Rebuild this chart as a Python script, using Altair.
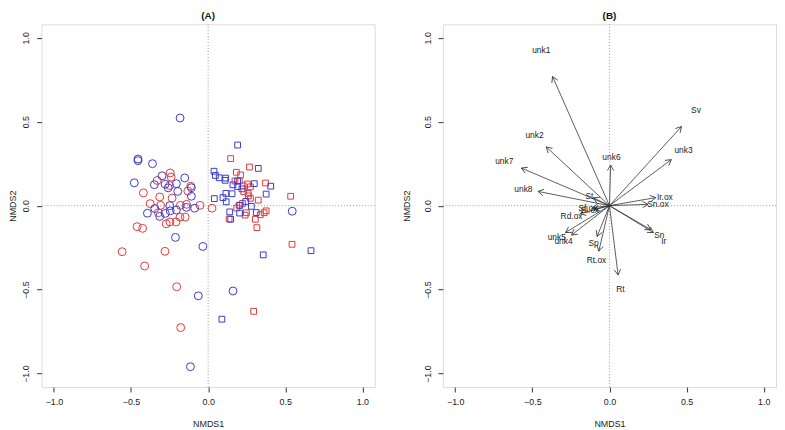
import math
import altair as alt
import pandas as pd

# ---------------- Panel A data (NMDS site scores) ----------------
red_circle_x = [-0.420, -0.331, -0.246, -0.240, -0.250, -0.314, -0.234, -0.113, -0.132, -0.376,
                -0.308, -0.180, -0.140, -0.053, 0.025, -0.323, -0.272, -0.248, -0.208, -0.183,
                -0.149, -0.461, -0.425, -0.558, -0.280, -0.412, -0.204, -0.178]
red_circle_y = [0.076, 0.150, 0.195, 0.170, 0.120, 0.052, 0.045, 0.116, 0.087, 0.012,
                0.002, 0.002, 0.008, 0.002, -0.015, -0.042, -0.108, -0.097, -0.097, -0.068,
                -0.068, -0.125, -0.135, -0.274, -0.272, -0.359, -0.483, -0.726]

blue_circle_x = [-0.182, -0.455, -0.455, -0.361, -0.479, -0.299, -0.349, -0.279, -0.259, -0.206,
                 -0.152, -0.197, -0.109, -0.109, -0.249, -0.346, -0.394, -0.314, -0.278, -0.246,
                 -0.206, -0.141, -0.088, -0.212, -0.034, 0.545, -0.064, 0.161, -0.115]
blue_circle_y = [0.522, 0.278, 0.268, 0.250, 0.136, 0.178, 0.125, 0.128, 0.106, 0.131,
                 0.165, 0.085, 0.107, 0.056, 0.000, -0.017, -0.045, -0.064, -0.046, -0.031,
                 -0.026, -0.010, -0.015, -0.189, -0.243, -0.033, -0.537, -0.508, -0.959]

red_square_x = [0.146, 0.268, 0.183, 0.210, 0.174, 0.202, 0.227, 0.255, 0.274, 0.372,
                0.231, 0.259, 0.261, 0.274, 0.325, 0.535, 0.223, 0.200, 0.185, 0.248,
                0.240, 0.338, 0.363, 0.376, 0.306, 0.136, 0.316, 0.544, 0.295]
red_square_y = [0.280, 0.230, 0.199, 0.183, 0.147, 0.147, 0.118, 0.129, 0.112, 0.135,
                0.083, 0.073, 0.058, 0.044, 0.033, 0.056, 0.014, 0.002, -0.014, -0.042,
                -0.056, -0.054, -0.042, -0.031, -0.081, -0.079, -0.131, -0.230, -0.629]

blue_square_x = [0.191, 0.325, 0.038, 0.047, 0.072, 0.113, 0.110, 0.191, 0.161, 0.191,
                 0.219, 0.299, 0.406, 0.376, 0.115, 0.155, 0.040, 0.096, 0.117, 0.244,
                 0.280, 0.206, 0.140, 0.204, 0.312, 0.146, 0.667, 0.357, 0.089]
blue_square_y = [0.361, 0.222, 0.205, 0.180, 0.166, 0.164, 0.151, 0.147, 0.124, 0.114,
                 0.100, 0.131, 0.116, 0.069, 0.073, 0.071, 0.042, 0.048, 0.023, 0.025,
                 -0.004, 0.002, -0.037, -0.044, -0.041, -0.081, -0.268, -0.293, -0.676]

# ---------------- Panel B data (fitted vectors) ----------------
vec_names = ["unk1", "unk2", "unk7", "unk8", "unk6", "Sv", "unk3", "Ir.ox", "Sn.ox", "Sn",
             "Ir", "Rt", "Rt.ox", "Sp", "unk4", "unk5", "Rd.ox", "St", "Sf.ox", "Sl.ox"]
tip_x = [-0.369, -0.410, -0.571, -0.463, 0.008, 0.467, 0.401, 0.300, 0.250, 0.268,
         0.285, 0.056, -0.069, -0.080, -0.246, -0.285, -0.190, -0.105, -0.110, -0.100]
tip_y = [0.769, 0.350, 0.224, 0.085, 0.242, 0.471, 0.274, 0.048, 0.008, -0.143,
         -0.160, -0.413, -0.271, -0.183, -0.175, -0.160, -0.048, 0.047, -0.012, -0.022]
lab_x = [-0.442, -0.486, -0.682, -0.558, 0.013, 0.561, 0.480, 0.359, 0.314, 0.323,
         0.352, 0.071, -0.084, -0.103, -0.298, -0.342, -0.246, -0.130, -0.140, -0.128]
lab_y = [0.924, 0.419, 0.267, 0.100, 0.290, 0.568, 0.329, 0.050, 0.010, -0.174,
         -0.213, -0.498, -0.325, -0.222, -0.213, -0.189, -0.064, 0.058, -0.012, -0.026]

ticks = [-1.0, -0.5, 0.0, 0.5, 1.0]
DOMAIN = [-1.08, 1.08]
W, H = 337, 367
FONT = "Liberation Sans"
RED = "#e23a3a"
BLUE = "#3a3acf"

# ---------------- tables ----------------
rows = []
for xs, ys, col, shp in [(red_circle_x, red_circle_y, "red", "circle"),
                         (blue_circle_x, blue_circle_y, "blue", "circle"),
                         (red_square_x, red_square_y, "red", "square"),
                         (blue_square_x, blue_square_y, "blue", "square")]:
    for a, b in zip(xs, ys):
        rows.append({"x": a, "y": b, "grp": col, "shp": shp})
sites = pd.DataFrame(rows)

px_x = W / (DOMAIN[1] - DOMAIN[0])
px_y = H / (DOMAIN[1] - DOMAIN[0])
vec = pd.DataFrame({"name": vec_names, "tx": tip_x, "ty": tip_y, "lx": lab_x, "ly": lab_y})
vec["x0"] = 0.0
vec["y0"] = 0.0
vec["ang"] = [math.degrees(math.atan2(a * px_x, b * px_y)) % 360 for a, b in zip(tip_x, tip_y)]

zero = pd.DataFrame({"x": [0.0], "y": [0.0]})

sc = alt.Scale(domain=DOMAIN, nice=False, zero=False)


def xaxis():
    return alt.Axis(values=ticks, format=".1f", title="NMDS1", grid=False, domain=False,
                    tickSize=5, tickColor="#333", tickWidth=1, labelPadding=6, titlePadding=13,
                    labelFontSize=9, titleFontSize=9, labelColor="#222", titleColor="#222",
                    titleFontWeight="normal", labelFont=FONT, titleFont=FONT)


def yaxis(tp):
    return alt.Axis(values=ticks, format=".1f", title="NMDS2", grid=False, domain=False,
                    tickSize=5, tickColor="#333", tickWidth=1, labelPadding=6, titlePadding=tp,
                    labelAngle=-90, labelFontSize=9, titleFontSize=9, labelColor="#222",
                    titleColor="#222", titleFontWeight="normal", labelFont=FONT, titleFont=FONT)


def zero_lines(tp):
    v = alt.Chart(zero).mark_rule(color="#999", strokeDash=[1, 2], strokeWidth=1).encode(
        x=alt.X("x:Q", scale=sc, axis=xaxis()))
    h = alt.Chart(zero).mark_rule(color="#999", strokeDash=[1, 2], strokeWidth=1).encode(
        y=alt.Y("y:Q", scale=sc, axis=yaxis(tp)))
    return v, h


# ---------------- Panel A ----------------
vA, hA = zero_lines(4)
pts = alt.Chart(sites).mark_point(filled=False, strokeWidth=1, opacity=1).encode(
    x=alt.X("x:Q", scale=sc, axis=xaxis()),
    y=alt.Y("y:Q", scale=sc, axis=yaxis(4)),
    color=alt.Color("grp:N", scale=alt.Scale(domain=["red", "blue"], range=[RED, BLUE]), legend=None),
    shape=alt.Shape("shp:N", scale=alt.Scale(domain=["circle", "square"], range=["circle", "square"]), legend=None),
    size=alt.Size("shp:N", scale=alt.Scale(domain=["circle", "square"], range=[64, 34]), legend=None),
)
panelA = alt.layer(vA, hA, pts).properties(
    width=W, height=H,
    title=alt.Title("(A)", fontSize=10, fontWeight="bold", font=FONT, offset=3, color="#111"))

# ---------------- Panel B ----------------
vB, hB = zero_lines(12)
shafts = alt.Chart(vec).mark_rule(color="#333", strokeWidth=0.8).encode(
    x=alt.X("x0:Q", scale=sc, axis=xaxis()),
    y=alt.Y("y0:Q", scale=sc, axis=yaxis(12)),
    x2="tx:Q", y2="ty:Q")
heads = alt.Chart(vec).mark_point(
    shape="M -0.5 0.866 L 0 0 L 0.5 0.866", filled=False, stroke="#333", strokeWidth=0.8,
    size=169, opacity=1).encode(
    x=alt.X("tx:Q", scale=sc, axis=xaxis()),
    y=alt.Y("ty:Q", scale=sc, axis=yaxis(12)),
    angle=alt.Angle("ang:Q", scale=None))
labels = alt.Chart(vec).mark_text(fontSize=8.5, font=FONT, color="#222", align="center",
                                  baseline="middle").encode(
    x=alt.X("lx:Q", scale=sc, axis=xaxis()),
    y=alt.Y("ly:Q", scale=sc, axis=yaxis(12)),
    text="name:N")
panelB = alt.layer(vB, hB, shafts, heads, labels).properties(
    width=W, height=H,
    title=alt.Title("(B)", fontSize=10, fontWeight="bold", font=FONT, offset=3, color="#111"))

chart = alt.hconcat(panelA, panelB, spacing=26).properties(padding=0).configure_view(
    stroke="#333", strokeWidth=1).configure(font=FONT)

chart.save("out.html", embed_options={"renderer": "svg", "actions": False})
